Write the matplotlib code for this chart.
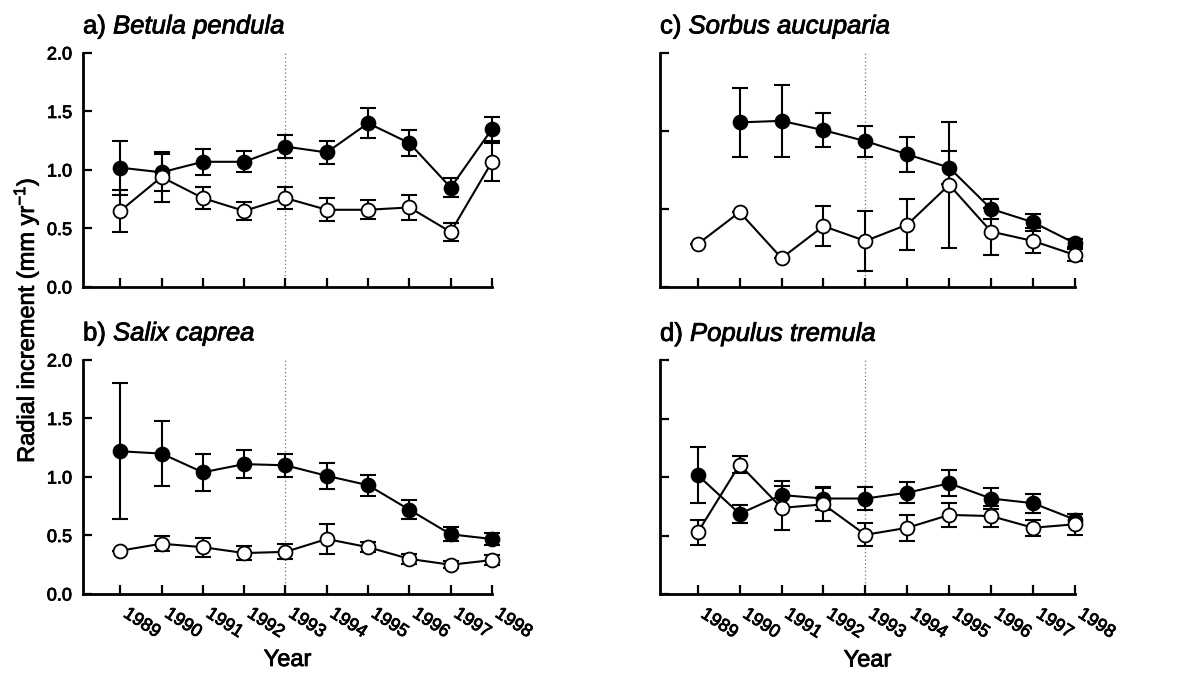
import numpy as np
import matplotlib
matplotlib.use("Agg")
from matplotlib import pyplot as plt
from matplotlib import patheffects

plt.rcParams["font.family"] = ["Liberation Sans", "DejaVu Sans"]
plt.rcParams["mathtext.fontset"] = "custom"
plt.rcParams["mathtext.rm"] = "Liberation Sans"
plt.rcParams["mathtext.it"] = "Liberation Sans:italic"

# scanned figure: text strokes look a bit heavier than plain Arial
thick = [patheffects.withStroke(linewidth=0.6, foreground="k")]

years = [1989, 1990, 1991, 1992, 1993, 1994, 1995, 1996, 1997, 1998]
year_labels = [str(y) for y in years]

# a) Betula pendula
betula_filled = [1.02, 0.98, 1.07, 1.07, 1.20, 1.15, 1.40, 1.23, 0.85, 1.35]
betula_filled_err = [0.23, 0.16, 0.11, 0.09, 0.10, 0.10, 0.13, 0.11, 0.08, 0.10]
betula_open = [0.65, 0.94, 0.76, 0.65, 0.76, 0.66, 0.66, 0.68, 0.47, 1.07]
betula_open_err = [0.18, 0.21, 0.095, 0.075, 0.097, 0.10, 0.08, 0.11, 0.075, 0.16]

# b) Salix caprea
salix_filled = [1.22, 1.20, 1.04, 1.11, 1.10, 1.01, 0.93, 0.72, 0.51, 0.47]
salix_filled_err = [0.58, 0.28, 0.16, 0.12, 0.10, 0.11, 0.09, 0.08, 0.06, 0.05]
salix_open = [0.37, 0.43, 0.40, 0.35, 0.36, 0.47, 0.40, 0.30, 0.25, 0.29]
salix_open_err = [0.0, 0.065, 0.08, 0.06, 0.065, 0.13, 0.045, 0.04, 0.03, 0.045]

# c) Sorbus aucuparia (own scale, no tick labels)
sorbus_filled = [np.nan, 2.11, 2.13, 2.01, 1.87, 1.70, 1.53, 1.00, 0.83, 0.56]
sorbus_filled_err = [0.0, 0.44, 0.46, 0.22, 0.20, 0.22, 0.21, 0.13, 0.11, 0.05]
sorbus_open = [0.55, 0.96, 0.37, 0.78, 0.59, 0.80, 1.31, 0.71, 0.59, 0.41]
sorbus_open_err = [0.0, 0.0, 0.0, 0.26, 0.39, 0.33, 0.81, 0.30, 0.16, 0.075]

# d) Populus tremula
populus_filled = [1.02, 0.69, 0.85, 0.82, 0.82, 0.87, 0.95, 0.82, 0.78, 0.64]
populus_filled_err = [0.24, 0.075, 0.12, 0.10, 0.10, 0.09, 0.11, 0.09, 0.08, 0.05]
populus_open = [0.53, 1.11, 0.74, 0.77, 0.51, 0.57, 0.68, 0.67, 0.57, 0.60]
populus_open_err = [0.11, 0.07, 0.19, 0.14, 0.10, 0.11, 0.10, 0.09, 0.07, 0.09]


def draw_panel(ax, title, filled, filled_err, opn, opn_err, ymax, yticks,
               ylabels=True, xlabels=False):
    ax.axvline(1993, color="0.45", ls=(0, (1, 2)), lw=0.9, zorder=1)

    ax.errorbar(years, filled, yerr=filled_err, fmt="none", ecolor="k",
                elinewidth=1.5, capsize=6, capthick=1.5, zorder=2, clip_on=False)
    ax.plot(years, filled, "-o", color="k", lw=1.5, ms=10, mfc="k", mec="k",
            mew=1.3, zorder=3, clip_on=False)
    ax.errorbar(years, opn, yerr=opn_err, fmt="none", ecolor="k",
                elinewidth=1.5, capsize=6, capthick=1.5, zorder=4, clip_on=False)
    ax.plot(years, opn, "-o", color="k", lw=1.5, ms=10, mfc="white", mec="k",
            mew=1.3, zorder=5, clip_on=False)

    ax.set_xlim(1988.1, 1998)
    ax.set_ylim(0, ymax)
    ax.set_yticks(yticks)
    ax.set_xticks(years)

    for s in ["top", "right"]:
        ax.spines[s].set_visible(False)
    for s in ["left", "bottom"]:
        ax.spines[s].set_linewidth(2.0)
    ax.tick_params(direction="in", length=6.5, width=1.6, labelsize=13, pad=8)

    if ylabels:
        ax.set_yticklabels([f"{t:.1f}" for t in yticks])
    else:
        ax.set_yticklabels([])
    if xlabels:
        ax.set_xticklabels(year_labels, rotation=-33, ha="left", va="top")
        ax.set_xlabel("Year", fontsize=17, path_effects=thick)
        ax.xaxis.set_label_coords(0.5, -0.235)
    else:
        ax.set_xticklabels([])
    for lab in ax.get_xticklabels() + ax.get_yticklabels():
        lab.set_path_effects(thick)

    ax.set_title(title, loc="left", fontsize=18.5, pad=14, path_effects=thick)


fig = plt.figure(figsize=(11.83, 6.74), dpi=100)
ax_a = fig.add_axes([0.0702, 0.5742, 0.3457, 0.3472])
ax_b = fig.add_axes([0.0702, 0.1187, 0.3457, 0.3472])
ax_c = fig.add_axes([0.5579, 0.5742, 0.3508, 0.3472])
ax_d = fig.add_axes([0.5579, 0.1180, 0.3508, 0.3472])

yt = [0.0, 0.5, 1.0, 1.5, 2.0]
draw_panel(ax_a, r"a) $\mathit{Betula\ pendula}$", betula_filled, betula_filled_err,
           betula_open, betula_open_err, 2.0, yt)
draw_panel(ax_b, r"b) $\mathit{Salix\ caprea}$", salix_filled, salix_filled_err,
           salix_open, salix_open_err, 2.0, yt, xlabels=True)
draw_panel(ax_c, r"c) $\mathit{Sorbus\ aucuparia}$", sorbus_filled, sorbus_filled_err,
           sorbus_open, sorbus_open_err, 3.0, [0, 1, 2, 3], ylabels=False)
draw_panel(ax_d, r"d) $\mathit{Populus\ tremula}$", populus_filled, populus_filled_err,
           populus_open, populus_open_err, 2.0, yt, ylabels=False, xlabels=True)

fig.text(0.022, 0.525, r"Radial increment (mm yr$^{-1}$)", rotation=90,
         ha="center", va="center", fontsize=17, path_effects=thick)

fig.savefig("out.png", dpi=100)
